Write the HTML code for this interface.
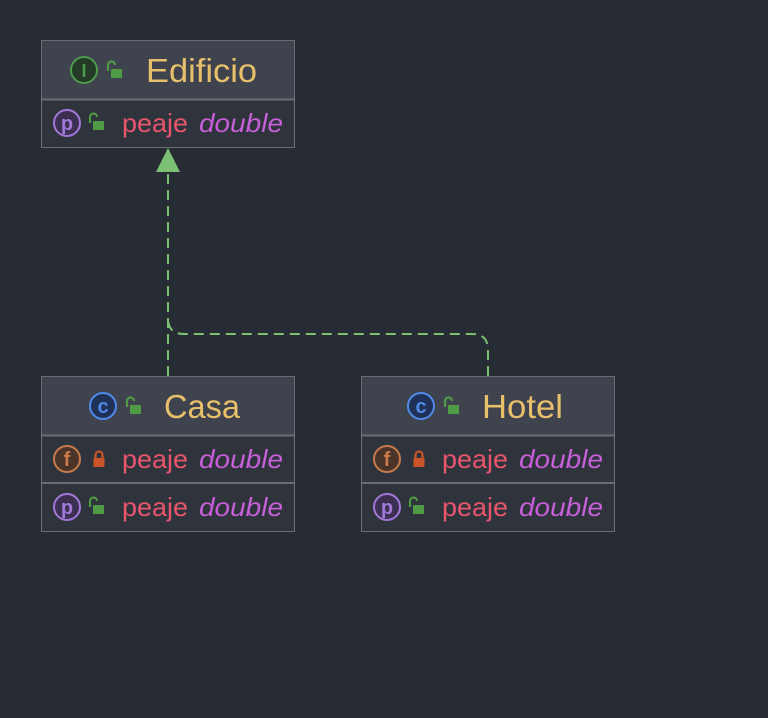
<!DOCTYPE html>
<html><head><meta charset="utf-8"><style>
html,body{margin:0;padding:0;background:#272b33;width:768px;height:718px;overflow:hidden}
svg{display:block}
text{font-family:"Liberation Sans","DejaVu Sans",sans-serif}
.t{fill:#e8bf6a;font-size:33px}
.n{fill:#e8566e;font-size:26px}
.d{fill:#c65fd9;font-size:26px;font-style:italic}
</style></head><body>
<svg width="768" height="718" viewBox="0 0 768 718" xmlns="http://www.w3.org/2000/svg">
<defs>
<g id="lockopen"><path d="M-6,1 v-6 a3.5,3.5 0 0 1 7,0" fill="none" stroke="#4f9a45" stroke-width="2.2"/><rect x="-3" y="-1" width="11" height="9" fill="#4f9a45"/></g>
<g id="lockclosed"><path d="M-3.5,-1 v-3 a3.5,3.5 0 0 1 7,0 v3" fill="none" stroke="#c9562b" stroke-width="2.2"/><rect x="-5.5" y="-1" width="11" height="9" fill="#c9562b"/></g>
<g id="ip"><circle r="13" fill="#3b2f52" stroke="#a178d8" stroke-width="2"/><text x="0" y="7" text-anchor="middle" font-size="20" font-weight="bold" fill="#a178d8">p</text></g>
<g id="if"><circle r="13" fill="#4a3329" stroke="#c77a4c" stroke-width="2"/><text x="0" y="7" text-anchor="middle" font-size="20" font-weight="bold" fill="#c77a4c">f</text></g>
<g id="ic"><circle r="13" fill="#1f3156" stroke="#4f8ae8" stroke-width="2"/><text x="0" y="7" text-anchor="middle" font-size="20" font-weight="bold" fill="#4f8ae8">c</text></g>
</defs>
<!-- Edificio -->
<rect x="41.5" y="40.5" width="253" height="107" fill="#2f333c" stroke="#6a6d74"/>
<rect x="42" y="41" width="252" height="58" fill="#3e434e"/>
<line x1="42" y1="99.5" x2="294" y2="99.5" stroke="#6a6d74" stroke-width="2"/>
<circle cx="84" cy="70" r="13" fill="#223a26" stroke="#4e9a4d" stroke-width="2"/>
<text x="84" y="77" text-anchor="middle" font-size="18" font-weight="bold" fill="#4e9a4d" font-family="Liberation Serif">I</text>
<use href="#lockopen" x="114" y="70"/>
<text x="146" y="82" class="t" textLength="111" lengthAdjust="spacingAndGlyphs">Edificio</text>
<use href="#ip" x="67" y="123"/>
<use href="#lockopen" x="96" y="122"/>
<text x="122" y="132" class="n" textLength="66" lengthAdjust="spacingAndGlyphs">peaje</text><text x="199" y="132" class="d" textLength="84" lengthAdjust="spacingAndGlyphs">double</text>
<!-- Casa -->
<rect x="41.5" y="376.5" width="253" height="155" fill="#2f333c" stroke="#6a6d74"/>
<rect x="42" y="377" width="252" height="58" fill="#3e434e"/>
<line x1="42" y1="435.5" x2="294" y2="435.5" stroke="#6a6d74" stroke-width="2"/>
<line x1="42" y1="483" x2="294" y2="483" stroke="#6a6d74" stroke-width="2"/>
<use href="#ic" x="103" y="406"/>
<use href="#lockopen" x="133" y="406"/>
<text x="164" y="418" class="t" textLength="76" lengthAdjust="spacingAndGlyphs">Casa</text>
<use href="#if" x="67" y="459"/>
<use href="#lockclosed" x="99" y="459"/>
<text x="122" y="468" class="n" textLength="66" lengthAdjust="spacingAndGlyphs">peaje</text><text x="199" y="468" class="d" textLength="84" lengthAdjust="spacingAndGlyphs">double</text>
<use href="#ip" x="67" y="507"/>
<use href="#lockopen" x="96" y="506"/>
<text x="122" y="516" class="n" textLength="66" lengthAdjust="spacingAndGlyphs">peaje</text><text x="199" y="516" class="d" textLength="84" lengthAdjust="spacingAndGlyphs">double</text>
<!-- Hotel -->
<rect x="361.5" y="376.5" width="253" height="155" fill="#2f333c" stroke="#6a6d74"/>
<rect x="362" y="377" width="252" height="58" fill="#3e434e"/>
<line x1="362" y1="435.5" x2="614" y2="435.5" stroke="#6a6d74" stroke-width="2"/>
<line x1="362" y1="483" x2="614" y2="483" stroke="#6a6d74" stroke-width="2"/>
<use href="#ic" x="421" y="406"/>
<use href="#lockopen" x="451" y="406"/>
<text x="482" y="418" class="t" textLength="81" lengthAdjust="spacingAndGlyphs">Hotel</text>
<use href="#if" x="387" y="459"/>
<use href="#lockclosed" x="419" y="459"/>
<text x="442" y="468" class="n" textLength="66" lengthAdjust="spacingAndGlyphs">peaje</text><text x="519" y="468" class="d" textLength="84" lengthAdjust="spacingAndGlyphs">double</text>
<use href="#ip" x="387" y="507"/>
<use href="#lockopen" x="416" y="506"/>
<text x="442" y="516" class="n" textLength="66" lengthAdjust="spacingAndGlyphs">peaje</text><text x="519" y="516" class="d" textLength="84" lengthAdjust="spacingAndGlyphs">double</text>
<!-- connectors -->
<g fill="none" stroke="#7cc173" stroke-width="2" stroke-dasharray="10,6">
<path d="M168,376 V172"/>
<path d="M488,376 V350 Q488,334 472,334 H184 Q168,334 168,318"/>
</g>
<polygon points="168,148 156,172 180,172" fill="#7cc173"/>
</svg>
</body></html>
